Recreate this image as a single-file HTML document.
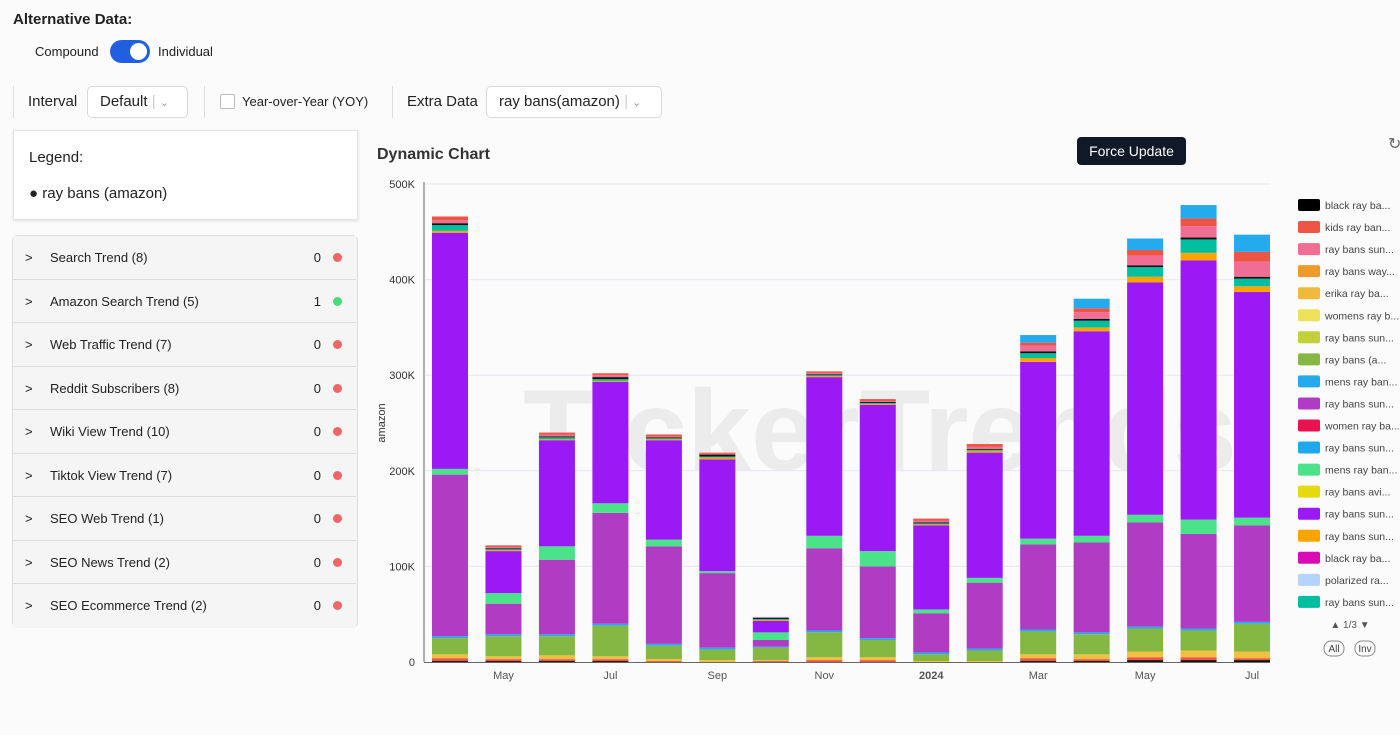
<!DOCTYPE html>
<html><head><meta charset="utf-8">
<style>
body{margin:0;width:1400px;height:735px;background:#fbfbfb;font-family:"Liberation Sans",Arial,sans-serif;color:#222;position:relative;overflow:hidden}
.abs{position:absolute}
.sel{position:absolute;top:86px;height:32px;border:1px solid #d9d9d9;border-radius:5px;background:#fff;font-size:15px;line-height:30px;padding-left:12px;box-sizing:border-box}
.row{position:absolute;left:13px;width:343px;height:43px;border-bottom:1px solid #ddd;font-size:13px;line-height:43px;background:#f5f5f5;box-sizing:border-box}
.dot{position:absolute;right:14px;top:17px;width:9px;height:9px;border-radius:50%}
</style></head><body>
<div class="abs" style="left:13px;top:11px;font-size:15px;font-weight:bold">Alternative Data:</div>
<div class="abs" style="left:35px;top:44px;font-size:13px">Compound</div>
<div class="abs" style="left:110px;top:40px;width:40px;height:23px;border-radius:12px;background:#1f5fe0"><div style="position:absolute;right:3px;top:3px;width:17px;height:17px;border-radius:50%;background:#fff"></div></div>
<div class="abs" style="left:158px;top:44px;font-size:13px">Individual</div>
<div class="abs" style="left:13px;top:86px;width:1px;height:32px;background:#ddd"></div>
<div class="abs" style="left:28px;top:93px;font-size:15px">Interval</div>
<div class="sel" style="left:87px;width:101px">Default <span style="color:#ccc">|</span> <span style="color:#999;font-size:11px">&#8964;</span></div>
<div class="abs" style="left:204px;top:86px;width:1px;height:32px;background:#ddd"></div>
<div class="abs" style="left:220px;top:94px;width:13px;height:13px;border:1px solid #bbb;border-radius:2px;background:#fff"></div>
<div class="abs" style="left:242px;top:94px;font-size:13px">Year-over-Year (YOY)</div>
<div class="abs" style="left:392px;top:86px;width:1px;height:32px;background:#ddd"></div>
<div class="abs" style="left:407px;top:93px;font-size:15px">Extra Data</div>
<div class="sel" style="left:486px;width:176px">ray bans(amazon) <span style="color:#ccc">|</span> <span style="color:#999;font-size:11px">&#8964;</span></div>

<div class="abs" style="left:13px;top:130px;width:343px;height:88px;background:#fff;border:1px solid #e3e3e3;box-shadow:0 1px 3px rgba(0,0,0,.12)">
<div style="position:absolute;left:15px;top:18px;font-size:15px">Legend:</div>
<div style="position:absolute;left:15px;top:54px;font-size:15px">&#9679; ray bans (amazon)</div></div>

<div class="abs" style="left:12px;top:235px;width:344px;height:391px;border:1px solid #ddd;border-radius:6px;background:#f5f5f5;overflow:hidden"></div>
<div id="rows"></div>

<div class="abs" style="left:377px;top:146px;font-size:16px;font-weight:bold;color:#333">Dynamic Chart</div>
<div class="abs" style="left:1077px;top:137px;width:109px;height:28px;background:#111827;color:#fff;border-radius:4px;font-size:14px;line-height:28px;text-align:center">Force Update</div>
<div class="abs" style="left:1388px;top:134px;font-size:16px;color:#666">&#8635;</div>

<svg class="abs" style="left:0;top:0" width="1400" height="735" id="chart"></svg>

<script>
const categories=["Apr","May","Jun","Jul","Aug","Sep","Oct","Nov","Dec","Jan","Feb","Mar","Apr","May","Jun","Jul"];
const xLabels=["","May","","Jul","","Sep","","Nov","","2024","","Mar","","May","","Jul"];
const black=[1,1,1,1,0,0,0,0,0,0,0,1,1,2,2,2];
const kidsRed=[3,2,2,2,1,0,1,2,2,0,0,3,2,3,3,2];
const yellow=[4,3,4,3,2,2,1,3,3,1,1,4,5,6,7,7];
const green=[17,21,20,32,14,11,13,26,18,7,11,24,21,24,21,29];
const mensBlue=[2,2,2,2,2,2,1,2,2,2,2,2,2,2,2,2];
const magenta=[169,32,78,116,102,78,7,86,75,41,69,89,94,109,99,101];
const mint=[6,11,14,10,7,2,8,13,16,4,5,6,7,8,15,8];
const purple=[247,44,111,127,104,117,12,166,153,88,131,185,214,243,271,236];
const orange=[2,1,1,1,1,2,1,1,1,1,2,4,4,6,8,6];
const teal=[6,1,2,2,1,1,1,1,1,1,1,5,7,10,14,8];
const black2=[2,1,1,2,1,2,1,1,1,1,1,2,2,2,2,2];
const pink=[3,1,2,2,1,1,1,1,1,2,2,6,7,10,12,16];
const red2=[4,2,2,2,2,1,0,2,2,2,3,3,4,6,8,10];
const sky=[0,0,0,0,0,0,0,0,0,0,0,8,10,12,14,18];
const yTicks=[0,100,200,300,400,500];
const legendNames=["black ray ba...","kids ray ban...","ray bans sun...","ray bans way...","erika ray ba...","womens ray b...","ray bans sun...","ray bans  (a...","mens ray ban...","ray bans sun...","women ray ba...","ray bans sun...","mens ray ban...","ray bans avi...","ray bans sun...","ray bans sun...","black ray ba...","polarized ra...","ray bans sun..."];
const legendColors=["#000","#ee5545","#f06e93","#ef9a2a","#f0b93a","#eee058","#c2d13a","#85b843","#25aaee","#b03cc4","#e8124d","#1fa8f0","#4be38a","#e6d90e","#9b19f5","#ffa300","#dc0ab4","#b3d4ff","#00bfa0"];
const series=[[black,"#111"],[kidsRed,"#ee5545"],[yellow,"#f0c040"],[green,"#85b843"],[mensBlue,"#25aaee"],[magenta,"#b03cc4"],[mint,"#4be38a"],[purple,"#9b19f5"],[orange,"#ffa300"],[teal,"#00bfa0"],[black2,"#111"],[pink,"#f06e93"],[red2,"#ee5545"],[sky,"#25aaee"]];
const NS="http://www.w3.org/2000/svg";
const svg=document.getElementById('chart');
const x0=450,step=53.47,bw=36;
function xS(i){return x0+i*step;}
function yS(v){return 662-v*0.956;}
function mk(t,a){const e=document.createElementNS(NS,t);for(const k in a)e.setAttribute(k,a[k]);svg.appendChild(e);return e;}
let wm=mk('text',{x:880,y:470,'font-size':115,'font-weight':'bold',fill:'#ececec','text-anchor':'middle','font-family':'Liberation Sans'});wm.textContent="TickerTrends";


yTicks.forEach(t=>{
 if(t>0){const g=mk('line',{x1:425,x2:1270,y1:yS(t),y2:yS(t),stroke:'#e6e8f0'});
 
 }
 const l=mk('text',{x:415,y:yS(t)+4,'font-size':11,fill:'#333','text-anchor':'end'});l.textContent=t===0?'0':t+'K';
 
 
});
const ax=mk('line',{x1:424,x2:424,y1:182,y2:662,stroke:'#666'});


const yt=mk('text',{x:385,y:423,'font-size':11,fill:'#333','text-anchor':'middle',transform:'rotate(-90 385 423)'});yt.textContent='amazon';


categories.forEach((c,i)=>{
 let acc=0;
 series.forEach(([arr,col])=>{
  const v=arr[i];if(!v)return;
  const r=mk('rect',{x:xS(i)-bw/2,y:yS(acc+v),width:bw,height:v*0.956,fill:col});
  
  
  acc+=v;
 });
 if(xLabels[i]){const t=mk('text',{x:xS(i),y:679,'font-size':11,fill:'#555','text-anchor':'middle','font-weight':xLabels[i]==='2024'?'bold':'normal'});t.textContent=xLabels[i];
 
 }
});
const xa=mk('line',{x1:424,x2:1270,y1:662.5,y2:662.5,stroke:'#666'});


legendNames.forEach((n,i)=>{
 const y=205+i*22.05;
 const r=mk('rect',{x:1298,y:y-6,width:22,height:12,rx:2,fill:legendColors[i]});
 
 
 const t=mk('text',{x:1325,y:y+4,'font-size':10.5,fill:'#444'});t.textContent=n;
 
 
});
const pg=mk('text',{x:1350,y:628,'font-size':10,fill:'#555','text-anchor':'middle'});pg.textContent='▲  1/3  ▼';


[['All',1334],['Inv',1365]].forEach(([s,x])=>{
 const r=mk('rect',{x:x-10,y:641,width:20,height:15,rx:7,fill:'none',stroke:'#888'});
 
 
 const t=mk('text',{x:x,y:652,'font-size':10,fill:'#444','text-anchor':'middle'});t.textContent=s;
 
 
});
const rows=[["Search Trend (8)","0","#ee6666"],["Amazon Search Trend (5)","1","#44dd77"],["Web Traffic Trend (7)","0","#ee6666"],["Reddit Subscribers (8)","0","#ee6666"],["Wiki View Trend (10)","0","#ee6666"],["Tiktok View Trend (7)","0","#ee6666"],["SEO Web Trend (1)","0","#ee6666"],["SEO News Trend (2)","0","#ee6666"],["SEO Ecommerce Trend (2)","0","#ee6666"]];
const rc=document.getElementById('rows');
rows.forEach((r,i)=>{
 const d=document.createElement('div');d.className='row';
 const top=Math.round(236+i*43.5), bot=Math.round(236+(i+1)*43.5);
 d.style.top=top+'px';d.style.height=(bot-top)+'px';
 if(i===rows.length-1){d.style.borderBottom='none';}
 d.innerHTML='<span style="position:absolute;left:12px">&gt;</span><span style="position:absolute;left:37px">'+r[0]+'</span><span style="position:absolute;right:35px">'+r[1]+'</span><span class="dot" style="background:'+r[2]+'"></span>';
 
 
 rc.appendChild(d);
});
</script>
</body></html>
